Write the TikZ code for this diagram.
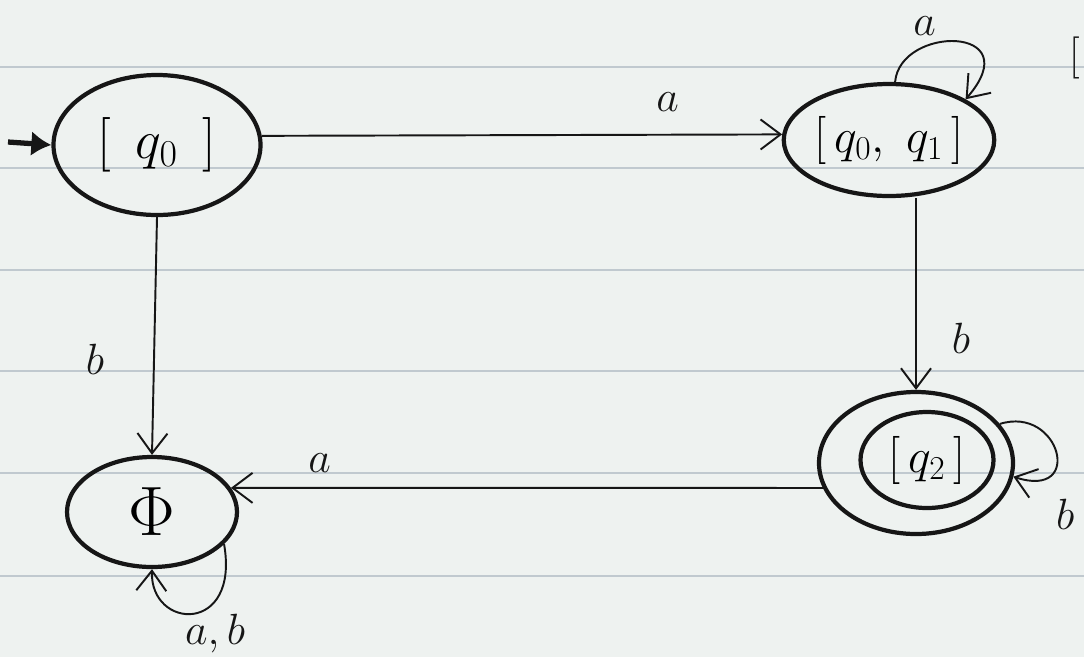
\documentclass[tikz,border=0pt]{standalone}
\usepackage{amssymb}
\usepackage{amsmath}
\usepackage{tikz}
\usetikzlibrary{shapes.geometric,arrows.meta,positioning}
\definecolor{paper}{RGB}{238,242,240}
\definecolor{ruling}{RGB}{192,201,207}
\definecolor{ink}{RGB}{22,22,22}

\begin{document}
\begin{tikzpicture}[x=0.2mm,y=-0.2mm,
    state/.style={draw=ink, ellipse, line width=2.4pt, inner sep=0pt, font=\fontsize{24}{28}\selectfont},
    tr/.style={draw=ink, line width=1.1pt, -{Straight Barb[length=4mm,width=6mm]}},
    lbl/.style={text=ink, inner sep=1mm, font=\fontsize{24}{28}\selectfont}]
    \useasboundingbox (0,0) rectangle (1084,657);
    \fill[paper] (0,0) rectangle (1084,657);
    \foreach \y in {67,168,270,371,473,576} {\draw[ruling, line width=1.2pt] (0,\y) -- (1084,\y);}
    \node[text=ink, inner sep=0pt, font=\fontsize{24}{28}\selectfont] (frag) at (1075,58) {[};
    % states
    \node[state, minimum width=41.4mm, minimum height=28mm] (q0) at (157,145) {\scalebox{1.25}{$[\;\,q_0\;\,]$}};
    \node[state, minimum width=39mm, minimum height=22.4mm] (q01) at (889,140) {\scalebox{1.1}{$[\,q_0,\;q_1\,]$}};
    \node[state, minimum width=38.8mm, minimum height=28.4mm] (q2) at (916,463) {};
    \node[state, minimum width=26.6mm, minimum height=19.2mm] (q2in) at (927,460) {\scalebox{1.1}{$[\,q_2\,]$}};
    \node[state, minimum width=34mm, minimum height=22mm] (phi) at (152,512) {\scalebox{1.6}{$\Phi$}};
    % start
    \coordinate (init) at (8,142);
    \draw[ink, line width=3pt, -{Latex[length=4mm,width=5mm]}] (init) -- (q0.west);
    % transitions
    \draw[tr] (q0.5) -- node[lbl, pos=0.78, above=3.4mm] (la1) {$a$} (q01.177);
    \draw[tr] (q01.84) .. controls (900,25) and (1030,25) .. node[lbl, pos=0.3, above=1mm] (la2) {$a$} (q01.28);
    \draw[tr] (q01.south -| q2.north) -- node[lbl, pos=0.73, right=6mm] (lb1) {$b$} (q2.north);
    \draw[tr] (q0.south) -- node[lbl, pos=0.6, left=8.8mm] (lb2) {$b$} (phi.north);
    \draw[tr] (q2.195) -- node[lbl, pos=0.85, above=1.8mm] (la3) {$a$} (phi.17);
    \draw[tr] (q2.25) .. controls (1060,405) and (1085,500) .. node[lbl, pos=0.8, below right=3mm and 1mm] (lb3) {$b$} (q2.-8);
    \draw[tr] (phi.-24) .. controls (240,635) and (150,630) .. node[lbl, pos=0.3, below=1.5mm] (lab) {$a,b$} (phi.south);
\end{tikzpicture}
\end{document}
